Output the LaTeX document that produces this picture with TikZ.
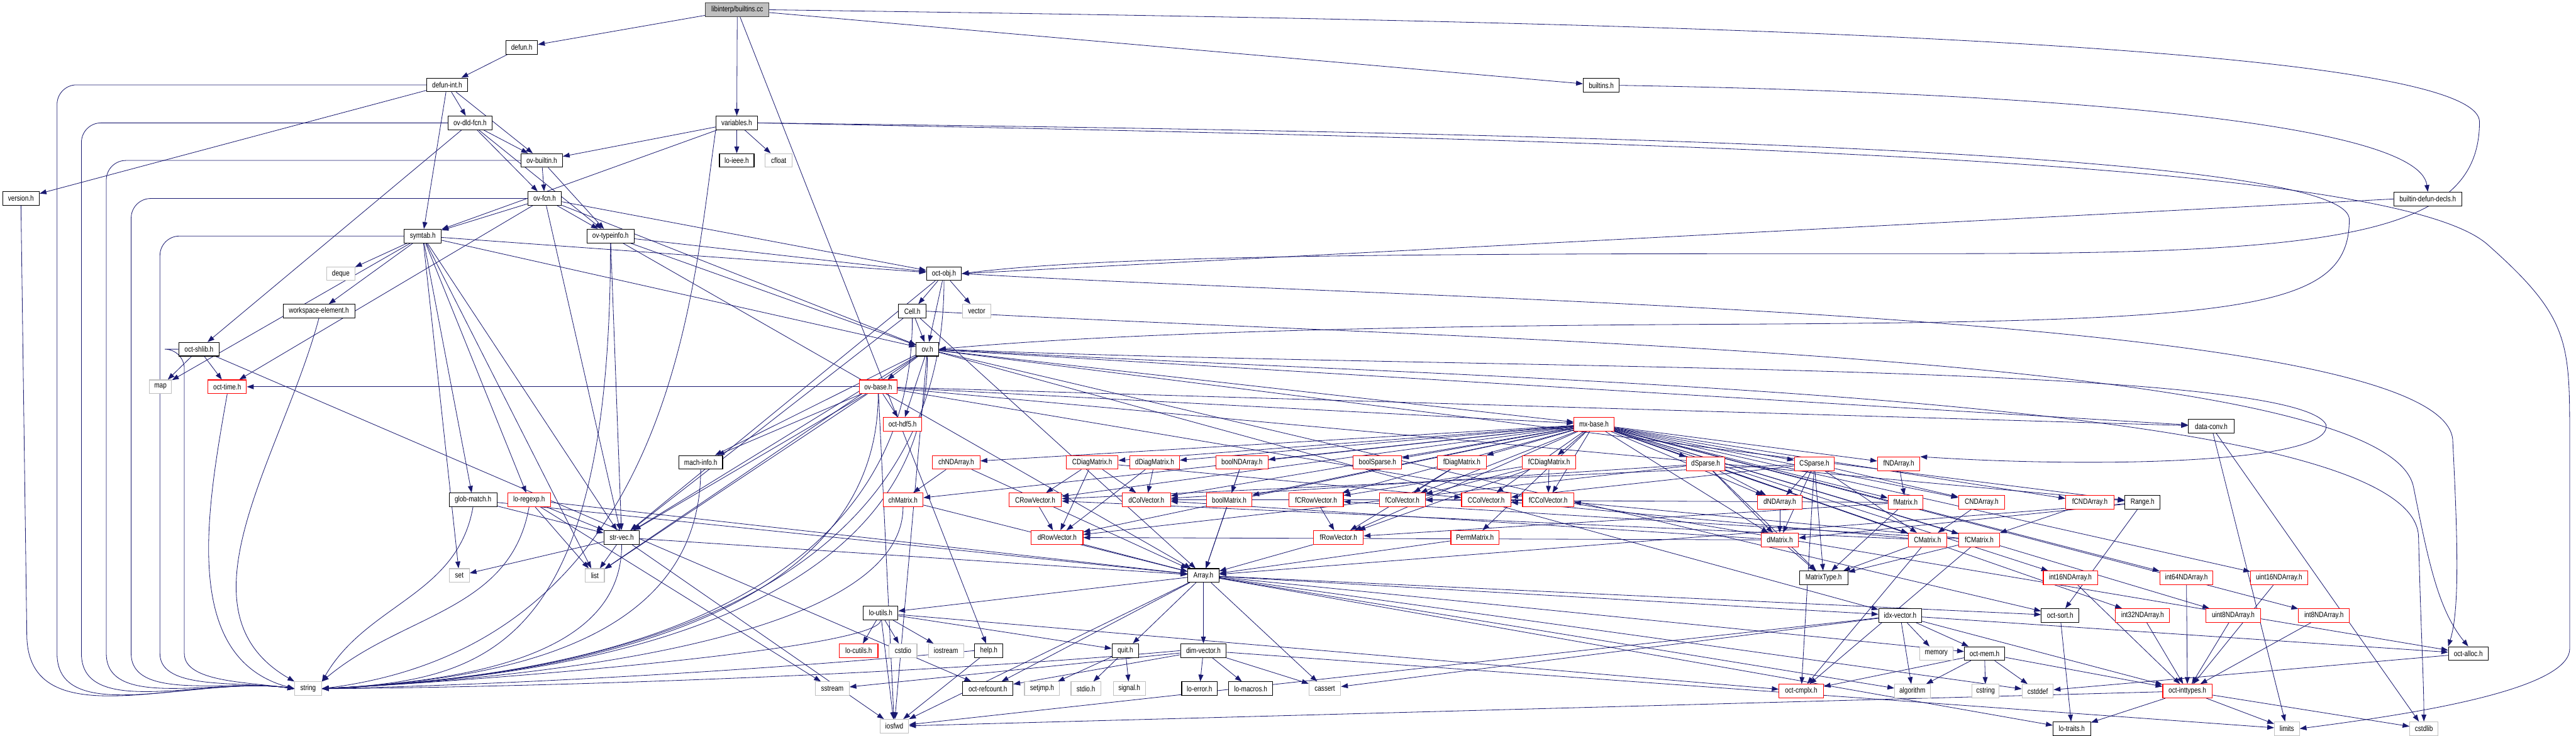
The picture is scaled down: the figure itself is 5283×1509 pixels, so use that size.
\documentclass[tikz,border=0pt]{standalone}
\usepackage{fontspec}
\setmainfont{Liberation Sans}[FakeStretch=0.82]
\usetikzlibrary{arrows.meta}
\definecolor{edgec}{HTML}{191970}
\definecolor{gryb}{HTML}{BFBFBF}
\pgfdeclarelayer{bg}
\pgfsetlayers{bg,main}
\tikzset{
 nb/.style={draw=black, line width=0.8pt, fill=white, minimum height=0.56cm, inner sep=0pt, font=\fontsize{9}{10}\selectfont},
 rd/.style={nb, draw=red},
 gy/.style={nb, draw=gryb},
 rt/.style={nb, fill=gryb, draw=black!75},
 e/.style={draw=edgec, line width=0.6pt, -{Triangle[length=0.28cm,width=0.2cm]}},
}
\newcommand\nd[6][nb]{\node[#1, minimum width=#5*0.02cm] (#2) at (#3,#4) {#6};}
\newcommand\E[2]{\foreach \tg in {#2}{\draw[e] (#1) -- (\tg);}}
% into string from the left, down a vertical at x=#2
\newcommand\SV[2]{\draw[e,rounded corners=0.8cm] (#1.west) -| (#2,1300) to[out=-90,in=172] (string.west);}
% into string from the right, source #1 whose x is #2
\newcommand\SR[2]{\draw[e] (#1.south) .. controls (#2,1330) and (1000,1395) .. (string.east);}
\begin{document}
\begin{tikzpicture}[x=0.02cm,y=-0.02cm]
\useasboundingbox (0,0) rectangle (5283,1509);
% rows 0-6
\nd[rt]{root}{1512}{20}{130}{libinterp/builtins.cc}
\nd{defun}{1070}{97}{65}{defun.h}
\nd{defunint}{917}{174}{83}{defun-int.h}
\nd{builtinsh}{3284}{175}{74}{builtins.h}
\nd{ovdld}{964}{252}{90}{ov-dld-fcn.h}
\nd{variables}{1511}{252}{85}{variables.h}
\nd{ovbuiltin}{1111}{329}{85}{ov-builtin.h}
\nd{loieee}{1511}{329}{71}{lo-ieee.h}
\nd[gy]{cfloat}{1597}{329}{55}{cfloat}
\nd{version}{43}{407}{75}{version.h}
\nd{ovfcn}{1117}{407}{69}{ov-fcn.h}
\nd{bdd}{4979}{408}{140}{builtin-defun-decls.h}
\nd{symtab}{867}{484}{76}{symtab.h}
\nd{ovtypeinfo}{1252}{484}{97}{ov-typeinfo.h}
% rows 7-11
\nd[gy]{deque}{699}{561}{57}{deque}
\nd{octobj}{1936}{561}{72}{oct-obj.h}
\nd{wse}{654}{638}{147}{workspace-element.h}
\nd{Cell}{1871}{638}{56}{Cell.h}
\nd[gy]{vector}{2003}{638}{58}{vector}
\nd{octshlib}{408}{716}{83}{oct-shlib.h}
\nd{ov}{1902}{716}{46}{ov.h}
\nd[gy]{map}{329}{793}{46}{map}
\nd[rd]{octtime}{466}{793}{79}{oct-time.h}
\nd[rd]{ovbase}{1801}{793}{78}{ov-base.h}
\nd[rd]{octhdf5}{1851}{870}{79}{oct-hdf5.h}
\nd[rd]{mxbase}{3269}{870}{82}{mx-base.h}
\nd{datacnv}{4535}{874}{94}{data-conv.h}
% row 12
\nd{machinfo}{1437}{948}{90}{mach-info.h}
\nd[rd]{chNDArray}{1961}{948}{98}{chNDArray.h}
\nd[rd]{CDiag}{2240}{948}{106}{CDiagMatrix.h}
\nd[rd]{dDiag}{2368}{948}{102}{dDiagMatrix.h}
\nd[rd]{boolND}{2547}{948}{107}{boolNDArray.h}
\nd[rd]{boolSparse}{2825}{948}{99}{boolSparse.h}
\nd[rd]{fDiag}{2998}{948}{100}{fDiagMatrix.h}
\nd[rd]{fCDiag}{3177}{948}{110}{fCDiagMatrix.h}
\nd[rd]{dSparse}{3498}{951}{79}{dSparse.h}
\nd[rd]{CSparse}{3721}{951}{82}{CSparse.h}
\nd[rd]{fND}{3894}{951}{87}{fNDArray.h}
% row 13
\nd{globmatch}{970}{1025}{98}{glob-match.h}
\nd[rd]{loregexp}{1085}{1025}{88}{lo-regexp.h}
\nd[rd]{chMatrix}{1852}{1025}{82}{chMatrix.h}
\nd[rd]{CRowV}{2123}{1025}{108}{CRowVector.h}
\nd[rd]{dColV}{2351}{1025}{99}{dColVector.h}
\nd[rd]{boolMatrix}{2521}{1025}{93}{boolMatrix.h}
\nd[rd]{fCRowV}{2699}{1025}{112}{fCRowVector.h}
\nd[rd]{fColV}{2876}{1025}{94}{fColVector.h}
\nd[rd]{CColV}{3048}{1025}{101}{CColVector.h}
\nd[rd]{fCColV}{3175}{1025}{105}{fCColVector.h}
\nd[rd]{dND}{3650}{1030}{91}{dNDArray.h}
\nd[rd]{fMatrix}{3908}{1030}{72}{fMatrix.h}
\nd[rd]{CND}{4064}{1030}{95}{CNDArray.h}
\nd[rd]{fCND}{4286}{1030}{99}{fCNDArray.h}
\nd{Range}{4394}{1030}{72}{Range.h}
% row 14
\nd{strvec}{1275}{1102}{73}{str-vec.h}
\nd[rd]{dRowV}{2168}{1102}{106}{dRowVector.h}
\nd[rd]{fRowV}{2745}{1102}{102}{fRowVector.h}
\nd[rd]{PermMatrix}{3025}{1102}{99}{PermMatrix.h}
\nd[rd]{dMatrix}{3650}{1107}{76}{dMatrix.h}
\nd[rd]{CMatrix}{3953}{1107}{79}{CMatrix.h}
\nd[rd]{fCMatrix}{4059}{1107}{83}{fCMatrix.h}
% row 15
\nd[gy]{set}{942}{1180}{41}{set}
\nd[gy]{list}{1220}{1180}{39}{list}
\nd{Array}{2468}{1180}{64}{Array.h}
\nd{MatrixType}{3740}{1185}{99}{MatrixType.h}
\nd[rd]{int16ND}{4246}{1185}{111}{int16NDArray.h}
\nd[rd]{int64ND}{4484}{1185}{109}{int64NDArray.h}
\nd[rd]{uint16ND}{4674}{1185}{117}{uint16NDArray.h}
% row 16
\nd{loutils}{1806}{1257}{71}{lo-utils.h}
\nd{idxvector}{3897}{1262}{88}{idx-vector.h}
\nd{octsort}{4225}{1262}{77}{oct-sort.h}
\nd[rd]{int32ND}{4394}{1262}{111}{int32NDArray.h}
\nd[rd]{uint8ND}{4580}{1262}{112}{uint8NDArray.h}
\nd[rd]{int8ND}{4766}{1262}{104}{int8NDArray.h}
% row 17
\nd[rd]{locutils}{1761}{1334}{79}{lo-cutils.h}
\nd[gy]{cstdio}{1852}{1334}{57}{cstdio}
\nd[gy]{iostream}{1940}{1334}{72}{iostream}
\nd{help}{2028}{1334}{58}{help.h}
\nd{quit}{2308}{1334}{55}{quit.h}
\nd{dimvector}{2468}{1334}{94}{dim-vector.h}
\nd[gy]{memory}{3971}{1340}{69}{memory}
\nd{octmem}{4070}{1340}{83}{oct-mem.h}
\nd{octalloc}{5062}{1340}{81}{oct-alloc.h}
% row 18
\nd[gy]{string}{632}{1412}{55}{string}
\nd[gy]{sstream}{1707}{1412}{69}{sstream}
\nd{octrefcount}{2026}{1412}{103}{oct-refcount.h}
\nd[gy]{setjmp}{2137}{1412}{72}{setjmp.h}
\nd[gy]{stdioh}{2227}{1412}{61}{stdio.h}
\nd[gy]{signalh}{2316}{1412}{66}{signal.h}
\nd{loerror}{2460}{1412}{73}{lo-error.h}
\nd{lomacros}{2565}{1412}{90}{lo-macros.h}
\nd[gy]{cassert}{2717}{1412}{65}{cassert}
\nd[rd]{octcmplx}{3694}{1417}{91}{oct-cmplx.h}
\nd[gy]{algorithm}{3922}{1417}{73}{algorithm}
\nd[gy]{cstring}{4072}{1417}{55}{cstring}
\nd[gy]{cstddef}{4179}{1417}{64}{cstddef}
\nd[rd]{octinttypes}{4486}{1417}{101}{oct-inttypes.h}
% row 19
\nd[gy]{iosfwd}{1834}{1489}{59}{iosfwd}
\nd{lotraits}{4249}{1494}{77}{lo-traits.h}
\nd[gy]{limits}{4690}{1494}{51}{limits}
\nd[gy]{cstdlib}{4971}{1494}{58}{cstdlib}

\begin{pgfonlayer}{bg}
\fill[white] (0,0) rectangle (5283,1509);
% edges into string from the left
\draw[e] (version.south) -- (55,1300) to[out=-90,in=172] (string.west);
\SV{defunint}{117}
\SV{ovdld}{167}
\SV{ovbuiltin}{218}
\SV{ovfcn}{269}
\SV{symtab}{328}
\SV{octshlib}{378}
\draw[e] (octtime.south) to[out=-100,in=165] (string.west);
\draw[e] (wse.south) to[out=-105,in=150] (string.north west);
\draw[e] (globmatch.south) to[out=-100,in=60] (string.north east);
\draw[e] (loregexp.south) to[out=-100,in=40] (string.north east);
% edges into string from the right
\draw[e] (variables.south west) .. controls (1420,600) and (1380,1320) .. (string.east);
\SR{ovtypeinfo}{1252}
\SR{strvec}{1275}
\SR{machinfo}{1437}
\SR{octobj}{1936}
\SR{Cell}{1871}
\SR{ov}{1902}
\SR{ovbase}{1801}
\SR{chMatrix}{1852}
\SR{loutils}{1806}
\draw[e] (help.west) .. controls (1500,1380) and (1000,1405) .. (string.east);
\draw[e] (dimvector.west) .. controls (1800,1390) and (1000,1410) .. (string.east);
% long looping edges on the right
\draw[e] (root.east) .. controls (3000,40) and (5085,70) .. (5085,250) .. controls (5085,480) and (4800,520) .. (4000,520) .. controls (3000,520) and (2300,520) .. (octobj.east);
\draw[e] (builtinsh.east) .. controls (4200,190) and (4960,250) .. (bdd.north);
\draw[e] (bdd.west) -- (octobj.east);
\draw[e] (variables.east) .. controls (3000,270) and (4818,300) .. (4818,450) .. controls (4818,640) and (4600,660) .. (3500,665) .. controls (2500,670) and (2100,700) .. (ov.east);
\draw[e] (variables.east) .. controls (3500,290) and (4900,330) .. (5100,500) .. controls (5270,650) and (5270,700) .. (5270,900) -- (5270,1330) .. controls (5270,1420) and (4900,1470) .. (limits.east);
\draw[e] (ov.east) .. controls (3000,760) and (4700,740) .. (4770,870) .. controls (4790,950) and (4300,960) .. (fND.north east);
\draw[e] (Cell.east) .. controls (3000,700) and (4900,720) .. (4950,1000) .. controls (4980,1150) and (5000,1250) .. (octalloc.north);
\draw[e] (octobj.east) .. controls (3000,620) and (5000,640) .. (5030,900) .. controls (5040,1100) and (5045,1250) .. (octalloc.north west);
\draw[e] (ov.east) .. controls (3000,780) and (4950,800) .. (4960,1100) .. controls (4965,1300) and (4971,1400) .. (cstdlib.north);
% straight edges
\E{root}{defun,help,variables,builtinsh}
\E{defun}{defunint}
\E{defunint}{version,ovdld,ovbuiltin,symtab}
\E{ovdld}{octshlib,ovbuiltin,ovfcn,ovtypeinfo}
\E{variables}{ovbuiltin,symtab,loieee,cfloat}
\E{ovbuiltin}{ovfcn,ovtypeinfo}
\E{ovfcn}{symtab,ovtypeinfo,octtime,strvec,octobj,ov}
\E{symtab}{deque,list,map,set,globmatch,loregexp,octobj,wse,ov,strvec}
\E{ovtypeinfo}{octobj,ov,strvec,Array}
\E{octobj}{vector,Cell,ov,strvec}
\E{octshlib}{map,octtime,octrefcount}
\E{Cell}{Array,strvec,ov}
\E{ov}{iosfwd,list,ovbase,octhdf5,Range,datacnv,idxvector,machinfo,mxbase,strvec,octsort}
\E{ovbase}{iosfwd,list,octhdf5,mxbase,Range,strvec,datacnv,machinfo,octalloc,octtime}
\E{mxbase}{boolMatrix,chMatrix,dColV,CColV,fColV,fCColV,dRowV,CRowV,fRowV,fCRowV,dDiag,CDiag,fDiag,fCDiag,PermMatrix,boolND,chNDArray,boolSparse,dSparse,CSparse,fND,dND,dMatrix,fMatrix,CND,fCND,CMatrix,fCMatrix,int16ND,int64ND,uint16ND,int32ND,uint8ND,int8ND}
\E{chNDArray}{chMatrix,Array}
\E{CDiag}{CRowV,CColV,dRowV,dColV}
\E{dDiag}{dRowV,dColV}
\E{boolND}{boolMatrix,Array}
\E{fDiag}{fRowV,fColV}
\E{fCDiag}{fCRowV,fCColV,fRowV,fColV}
\E{dSparse}{dND,dMatrix,MatrixType,dColV,dRowV,CMatrix}
\E{CSparse}{dND,dMatrix,MatrixType,CND,octcmplx,CColV,CRowV,CMatrix}
\E{fND}{fMatrix}
\E{dND}{dMatrix}
\E{fMatrix}{MatrixType,fRowV,fColV}
\E{CND}{CMatrix}
\E{fCND}{fCMatrix}
\E{Range}{dMatrix,Array,octsort}
\E{dMatrix}{MatrixType,dRowV,dColV}
\E{CMatrix}{MatrixType,octcmplx,CRowV,CColV}
\E{fCMatrix}{MatrixType,octcmplx,fCRowV,fCColV}
\E{globmatch}{Array,strvec}
\E{loregexp}{list,sstream,Array,strvec}
\E{chMatrix}{Array}
\E{CRowV}{dRowV}
\E{boolMatrix}{Array}
\E{fCRowV}{fRowV}
\E{CColV}{dColV}
\E{fCColV}{fColV}
\E{strvec}{set,list,iosfwd,Array}
\E{dRowV}{Array}
\E{fRowV}{Array}
\E{PermMatrix}{Array}
\E{int8ND}{octinttypes}
\E{int16ND}{octinttypes}
\E{int32ND}{octinttypes}
\E{int64ND}{octinttypes}
\E{uint8ND}{octinttypes}
\E{uint16ND}{octinttypes}
\E{Array}{cassert,cstddef,algorithm,iosfwd,dimvector,idxvector,loutils,octsort,quit,octmem,octrefcount,lotraits}
\E{loutils}{cstdio,iostream,locutils,octcmplx,iosfwd,quit}
\E{help}{iosfwd}
\E{quit}{setjmp,stdioh,signalh}
\E{dimvector}{cassert,sstream,loerror,lomacros,octrefcount,limits}
\E{idxvector}{memory,octmem,algorithm,octinttypes,octalloc,iosfwd,cassert}
\E{octmem}{octcmplx,algorithm,cstring,cstddef,octinttypes}
\E{octsort}{lotraits}
\E{octinttypes}{lotraits,limits,cstdlib,iosfwd}
\E{octalloc}{cstddef}
\E{datacnv}{limits,cstdlib}
\end{pgfonlayer}
\end{tikzpicture}
\end{document}
